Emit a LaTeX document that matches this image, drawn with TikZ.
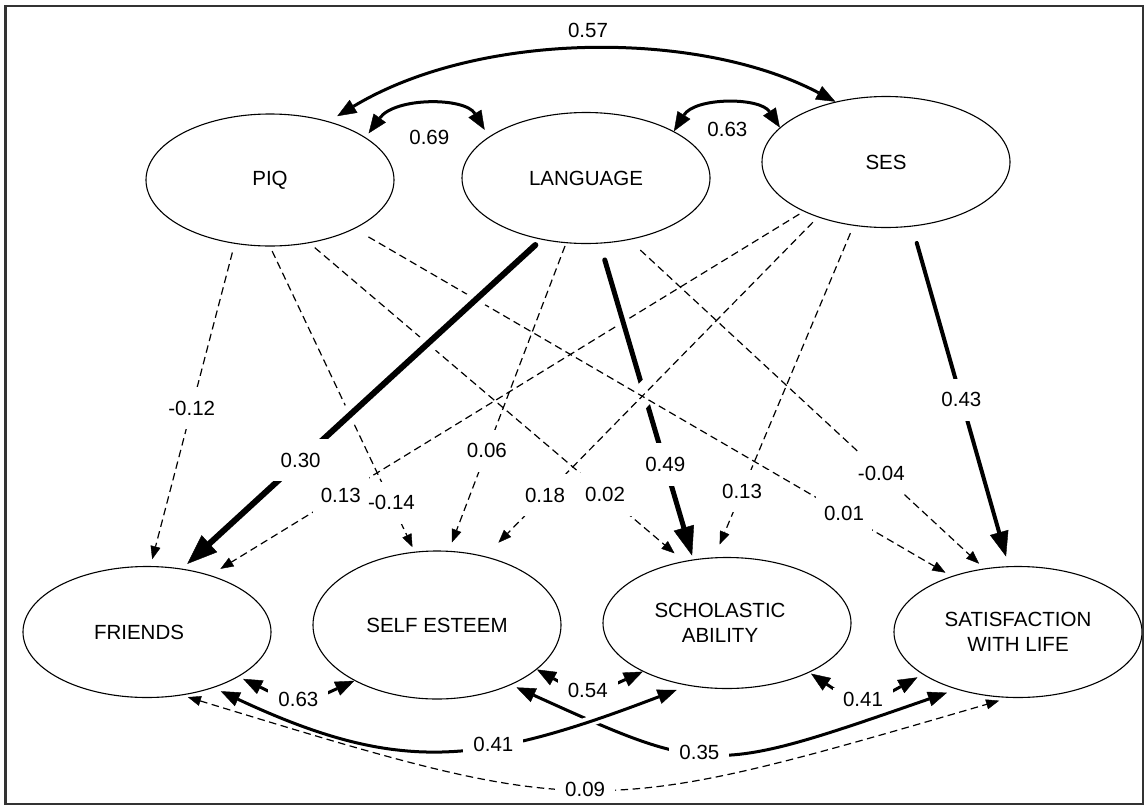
\documentclass[tikz,border=0pt]{standalone}
\usepackage{fontspec}
\setmainfont{Liberation Sans}
\usetikzlibrary{arrows.meta,shapes.geometric}
\newcommand\diagfont{\fontsize{20.5}{25}\selectfont}
\tikzset{
  lat/.style={ellipse, draw, line width=1.1pt, minimum width=248pt,
    minimum height=131pt, inner sep=0pt, align=center, font=\diagfont},
  lab/.style={fill=white, inner xsep=8pt, inner ysep=14pt, font=\diagfont},
  clab/.style={fill=white, inner xsep=10pt, inner ysep=4pt, font=\diagfont},
  dpath/.style={line width=1.2pt, dash pattern=on 7.5pt off 4.5pt,
    -{Triangle[length=13pt,width=10pt,line width=0.4pt]}},
  thk/.style args={#1/#2/#3}{line width=#1, line cap=round,
    -{Triangle[length=#2,width=#3,line width=0.4pt]}},
  bidir/.style={line width=3pt,
    {Triangle[length=19pt,width=15pt,line width=0.4pt]}-{Triangle[length=19pt,width=15pt,line width=0.4pt]}},
  dbidir/.style={line width=1.2pt, dash pattern=on 7.5pt off 4.5pt,
    {Triangle[length=13pt,width=10pt,line width=0.4pt]}-{Triangle[length=13pt,width=10pt,line width=0.4pt]}},
  halo/.style={preaction={draw=white, solid, line width=#1, -,
    shorten >=20pt, shorten <=20pt}},
}
\begin{document}
\begin{tikzpicture}[x=1pt,y=-1pt]
\useasboundingbox (0,0) rectangle (1148,806);

% latent variables
\node[lat, minimum height=132pt] (piq)  at (270,180) {PIQ};
\node[lat]                       (lang) at (586,178) {LANGUAGE};
\node[lat]                       (ses)  at (886,162) {SES};
\node[lat]                       (fri)  at (147,632) {FRIENDS\kern16pt\null};
\node[lat, minimum height=148pt] (self) at (437,625) {SELF ESTEEM};
\node[lat]                       (sch)  at (727,623) {SCHOLASTIC\kern14pt\null\\ABILITY\kern14pt\null};
\node[lat]                       (sat)  at (1018,632) {SATISFACTION\\WITH LIFE};

% regression paths (order sets which line passes over which)
\draw[dpath, shorten <=5pt, shorten >=12pt] (ses.-149) -- node[lab,pos=.78]{0.13} (fri.42);
\draw[thk=5pt/29pt/21pt, halo=14pt, shorten <=17pt, shorten >=4pt]
  (lang.-78) -- node[lab,pos=.70]{0.49} (sch.118);
\draw[dpath, halo=22pt, shorten <=7pt, shorten >=19pt] (ses.-141) -- node[lab,pos=.82]{0.18} (self.55);
\draw[dpath, shorten <=16pt, shorten >=7pt] (piq.-30) -- node[lab,pos=.82]{0.01} (sat.140);
\draw[dpath, shorten <=7pt, shorten >=12pt] (piq.-58) -- node[lab,pos=.79]{0.02} (sch.125);
\draw[dpath, shorten <=5pt, shorten >=5pt] (piq.-90) -- node[lab,pos=.84]{-0.14} (self.107);
\draw[dpath, shorten <=9pt, shorten >=7pt] (piq.-119) -- node[lab,pos=.51]{-0.12} (fri.87);
\draw[dpath, shorten <=3pt, shorten >=9pt] (lang.-107) -- node[lab,pos=.675]{0.06} (self.81);
\draw[dpath, shorten <=15pt, shorten >=7pt] (lang.-55) -- node[lab,pos=.71]{-0.04} (sat.118);
\draw[dpath, shorten <=8pt, shorten >=14pt] (ses.-117) -- node[lab,pos=.80]{0.13} (sch.101);
\draw[thk=4pt/25pt/19pt, shorten <=17pt, shorten >=10pt]
  (ses.-68) -- node[lab,pos=.51]{0.43} (sat.98);
\draw[thk=6pt/30pt/23pt, halo=20pt, shorten <=8pt, shorten >=7pt]
  (lang.-126) -- node[lab,pos=.67]{0.30} (fri.61);

% correlations among predictors
\draw[bidir, shorten <=10pt] (piq.45) .. controls (480,30) and (700,30) ..
  node[pos=.5, above=8pt, font=\diagfont]{0.57} (ses.130);
\draw[bidir, shorten <=5pt, shorten >=8pt] (piq.24) .. controls (395,97) and (465,97) ..
  node[below=18pt, font=\diagfont]{0.69} (lang.157);
\draw[bidir] (lang.28) .. controls (695,97) and (760,97) ..
  node[below=12pt, font=\diagfont]{0.63} (ses.162);

% correlations among outcomes
\draw[bidir, shorten <=5pt] (fri.-26) .. controls (299,706) .. node[clab]{0.63} (self.-146);
\draw[bidir] (self.-24) .. controls (587,697) .. node[clab]{0.54} (sch.-150);
\draw[bidir, shorten <=2pt, shorten >=6pt] (sch.-31) .. controls (862,708) .. node[clab]{0.41} (sat.-156);
\draw[bidir, shorten <=6pt, shorten >=10pt] (self.-39) .. controls (710,775) and (710,775) ..
  node[clab,pos=.45]{0.35} (sat.-137);
\draw[bidir, halo=10pt, shorten <=8pt, shorten >=12pt] (fri.-40) .. controls (400,775) and (480,765) ..
  node[clab,pos=.62]{0.41} (sch.-122);
\draw[dbidir, shorten <=6pt, shorten >=10pt] (fri.-61) .. controls (590,820) and (590,820) ..
  node[clab,pos=.49]{0.09} (sat.-98);

% frame
\draw[line width=2.2pt, black!80] (5.5,6) rectangle (1143,804);
\end{tikzpicture}
\end{document}
